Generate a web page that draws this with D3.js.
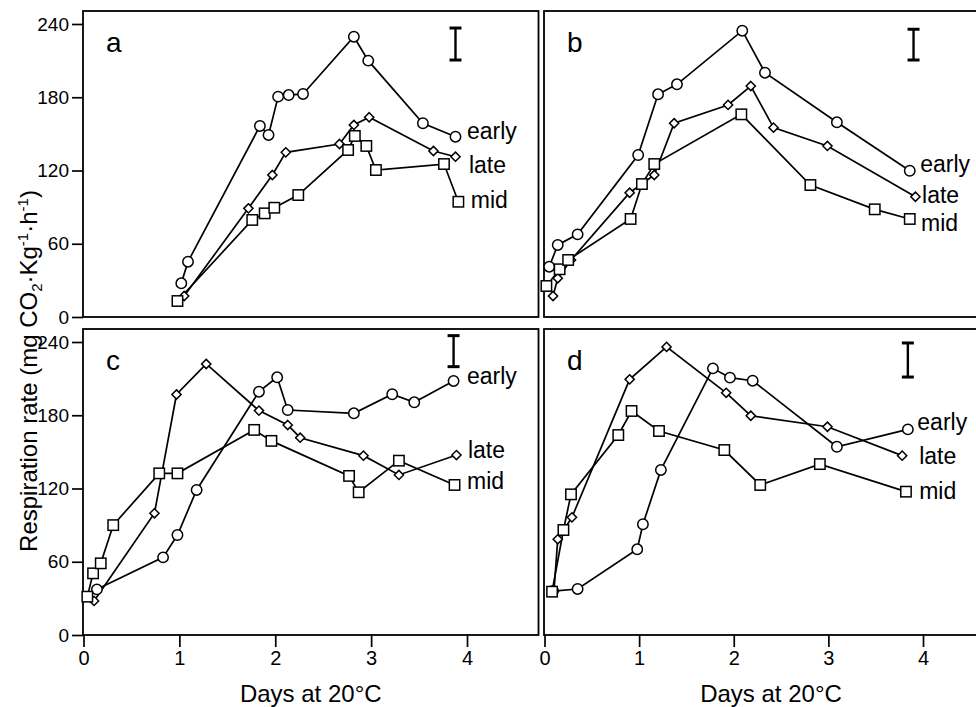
<!DOCTYPE html>
<html>
<head>
<meta charset="utf-8">
<script src="https://cdn.jsdelivr.net/npm/d3@7"></script>
<style>
  body { margin: 0; background: #fff; }
  svg text { font-family: "Liberation Sans", Arial, Helvetica, sans-serif; fill: #000; }
</style>
</head>
<body>
<svg id="chart" width="976" height="707"></svg>
<script>
// tick labels
var yTicks = [0, 60, 120, 180, 240];
var xTicks = [0, 1, 2, 3, 4];
var seriesNames = ['early', 'late', 'mid'];
var panelLetters = ['a', 'b', 'c', 'd'];

// [days, respiration rate]
var aEarly = [[1.02, 27.6], [1.09, 45.3], [1.84, 156.5], [1.93, 149.1], [2.03, 180.5], [2.14, 181.8],
              [2.29, 182.7], [2.82, 229.6], [2.97, 210], [3.54, 158.7], [3.88, 147.7]];
var aLate  = [[1.05, 17.2], [1.72, 89], [1.97, 116.3], [2.11, 134.9], [2.67, 141.7], [2.82, 157.3],
              [2.98, 163.6], [3.65, 136], [3.88, 131.3]];
var aMid   = [[0.98, 13.1], [1.76, 79.5], [1.89, 84.9], [1.99, 89.5], [2.24, 99.9], [2.76, 136.8],
              [2.83, 148.3], [2.95, 140.1], [3.05, 120.4], [3.76, 125.3], [3.91, 94.4]];

var bEarly = [[0.05, 41.2], [0.14, 59], [0.35, 67.7], [0.99, 132.7], [1.20, 182.4], [1.40, 190.6],
              [2.09, 234.5], [2.33, 200.1], [3.09, 159.5], [3.86, 119.8]];
var bLate  = [[0.09, 17.2], [0.14, 31.7], [0.28, 46.7], [0.90, 101.8], [1.16, 116.3], [1.37, 158.7],
              [1.94, 173.7], [2.18, 189.2], [2.42, 155.1], [2.99, 140.1], [3.92, 98.5]];
var bMid   = [[0.02, 25.4], [0.16, 39.1], [0.25, 46.7], [0.91, 80.3], [1.03, 108.9], [1.16, 125.3],
              [2.08, 166], [2.81, 108.1], [3.49, 88.2], [3.86, 80.3]];

var cEarly = [[0.14, 37.4], [0.83, 63.6], [0.98, 81.9], [1.18, 118.8], [1.83, 199.3], [2.02, 211.1],
              [2.13, 184.3], [2.82, 181.6], [3.22, 197.2], [3.45, 190.6], [3.86, 208.1]];
var cLate  = [[0.11, 27.9], [0.74, 99.7], [0.97, 197], [1.28, 222], [1.83, 183.8], [2.13, 172],
              [2.26, 161.6], [2.92, 146.9], [3.29, 131.1], [3.89, 147.4]];
var cMid   = [[0.04, 31.4], [0.10, 50.5], [0.18, 58.7], [0.31, 90], [0.79, 132.4], [0.98, 132.4],
              [1.78, 168], [1.96, 159], [2.77, 130.3], [2.87, 116.9], [3.29, 142.8], [3.87, 122.9]];

var dEarly = [[0.09, 36], [0.35, 37.7], [0.98, 70.2], [1.04, 90.7], [1.23, 135.2], [1.78, 218.4],
              [1.96, 210.8], [2.20, 208.3], [3.09, 154.2], [3.84, 168.4]];
var dLate  = [[0.10, 36], [0.14, 78.4], [0.29, 96.4], [0.90, 209.4], [1.29, 236], [1.92, 198.4],
              [2.18, 179.6], [2.99, 170.6], [3.78, 146.9]];
var dMid   = [[0.08, 35.5], [0.20, 86], [0.28, 115.2], [0.78, 163.8], [0.92, 183.5], [1.21, 167.1],
              [1.90, 151.5], [2.28, 122.9], [2.91, 140], [3.82, 117.4]];

// error bar per panel: [days, low, high]
var barA = [3.88, 210.5, 236.7];
var barB = [3.90, 210.5, 235.7];
var barC = [3.86, 219.8, 245.2];
var barD = [3.84, 211.3, 239.2];

// series label anchors per panel (early, late, mid): [days, rate]
var labA = [[4.00, 152.4], [4.02, 124.8], [4.04, 96.2]];
var labB = [[3.97, 125.7], [3.99, 100.0], [3.98, 76.8]];
var labC = [[4.00, 212.5], [4.01, 151.5], [4.00, 126.5]];
var labD = [[3.94, 174.8], [3.96, 147.0], [3.96, 118.0]];

var svg = d3.select('#chart');

// frame edges and scale ranges for the two columns / rows
var cols = [
    { x0: 83, x1: 538.5, r0: 83.5, r1: 467 },
    { x0: 544, x1: 998, r0: 544.5, r1: 923 }
];
var rows = [
    { y0: 11, y1: 317 },
    { y0: 329, y1: 635 }
];

var panels = [
    { letter: panelLetters[0], col: 0, row: 0, series: [aEarly, aLate, aMid], bar: barA, labels: labA },
    { letter: panelLetters[1], col: 1, row: 0, series: [bEarly, bLate, bMid], bar: barB, labels: labB },
    { letter: panelLetters[2], col: 0, row: 1, series: [cEarly, cLate, cMid], bar: barC, labels: labC },
    { letter: panelLetters[3], col: 1, row: 1, series: [dEarly, dLate, dMid], bar: barD, labels: labD }
];

var shapes = ['circle', 'diamond', 'square'];

panels.forEach(function(p) {
    var c = cols[p.col], r = rows[p.row];
    var x = d3.scaleLinear().domain([0, 4]).range([c.r0, c.r1]);
    var y = d3.scaleLinear().domain([0, 240]).range([r.y1, r.y1 - 293]);
    var g = svg.append('g');

    // frame
    g.append('rect')
        .attr('x', c.x0).attr('y', r.y0)
        .attr('width', c.x1 - c.x0).attr('height', r.y1 - r.y0)
        .attr('fill', 'none').attr('stroke', '#000').attr('stroke-width', 1.8);

    // y axis on left panels only
    if (p.col === 0) {
        var ya = g.append('g')
            .attr('transform', 'translate(' + c.x0 + ',0)')
            .call(d3.axisLeft(y).tickValues(yTicks).tickSize(11).tickPadding(3));
        ya.select('.domain').remove();
        ya.selectAll('line').attr('stroke', '#000').attr('stroke-width', 1.7);
        ya.selectAll('text').attr('font-size', 19).attr('fill', '#000');
    }
    // x axis on bottom panels only
    if (p.row === 1) {
        var xa = g.append('g')
            .attr('transform', 'translate(0,' + r.y1 + ')')
            .call(d3.axisBottom(x).tickValues(xTicks).tickFormat(d3.format('d')).tickSize(12).tickPadding(4));
        xa.select('.domain').remove();
        xa.selectAll('line').attr('stroke', '#000').attr('stroke-width', 1.7);
        xa.selectAll('text').attr('font-size', 20).attr('fill', '#000');
    }

    var line = d3.line()
        .x(function(d) { return x(d[0]); })
        .y(function(d) { return y(d[1]); });

    p.series.forEach(function(s) {
        g.append('path')
            .datum(s)
            .attr('d', line)
            .attr('fill', 'none')
            .attr('stroke', '#000')
            .attr('stroke-width', 1.7);
    });

    // markers on top of all lines
    p.series.forEach(function(s, i) {
        var shape = shapes[i];
        var m = g.append('g')
            .attr('fill', '#fff')
            .attr('stroke', '#000')
            .attr('stroke-width', 1.5)
            .selectAll('.m').data(s).enter();
        if (shape === 'circle') {
            m.append('circle')
                .attr('cx', function(d) { return x(d[0]); })
                .attr('cy', function(d) { return y(d[1]); })
                .attr('r', 5.2);
        } else if (shape === 'square') {
            m.append('rect')
                .attr('x', function(d) { return x(d[0]) - 5.2; })
                .attr('y', function(d) { return y(d[1]) - 5.2; })
                .attr('width', 10.4).attr('height', 10.4);
        } else {
            m.append('path')
                .attr('d', function(d) {
                    var cx = x(d[0]), cy = y(d[1]), h = 4.6;
                    return 'M' + cx + ',' + (cy - h) + 'L' + (cx + h) + ',' + cy +
                           'L' + cx + ',' + (cy + h) + 'L' + (cx - h) + ',' + cy + 'Z';
                });
        }
    });

    // error bar
    var bx = x(p.bar[0]);
    g.append('line')
        .attr('x1', bx).attr('x2', bx)
        .attr('y1', y(p.bar[1])).attr('y2', y(p.bar[2]))
        .attr('stroke', '#000').attr('stroke-width', 2.4);
    [p.bar[1], p.bar[2]].forEach(function(v) {
        g.append('line')
            .attr('x1', bx - 6).attr('x2', bx + 6)
            .attr('y1', y(v)).attr('y2', y(v))
            .attr('stroke', '#000').attr('stroke-width', 3);
    });

    // series labels
    p.labels.forEach(function(l, i) {
        g.append('text')
            .attr('x', x(l[0]))
            .attr('y', y(l[1]))
            .attr('dy', '0.35em')
            .attr('font-size', 23)
            .text(seriesNames[i]);
    });

    // panel letter
    g.append('text')
        .attr('x', c.x0 + 23)
        .attr('y', r.y0 + 41)
        .attr('font-size', 28)
        .text(p.letter);
});

// x axis titles
[0, 1].forEach(function(i) {
    svg.append('text')
        .attr('x', (cols[i].x0 + cols[i].x1) / 2)
        .attr('y', 702)
        .attr('text-anchor', 'middle')
        .attr('font-size', 24)
        .text('Days at 20°C');
});

// y axis title
var yt = svg.append('text')
    .attr('transform', 'translate(37,371) rotate(-90)')
    .attr('text-anchor', 'middle')
    .attr('font-size', 24);
yt.append('tspan').text('Respiration rate (mg CO');
yt.append('tspan').attr('font-size', 15).attr('dy', 5).text('2');
yt.append('tspan').attr('dy', -5).text('·Kg');
yt.append('tspan').attr('font-size', 15).attr('dy', -9).text('-1');
yt.append('tspan').attr('dy', 9).text('·h');
yt.append('tspan').attr('font-size', 15).attr('dy', -9).text('-1');
yt.append('tspan').attr('dy', 9).text(')');
</script>
</body>
</html>
